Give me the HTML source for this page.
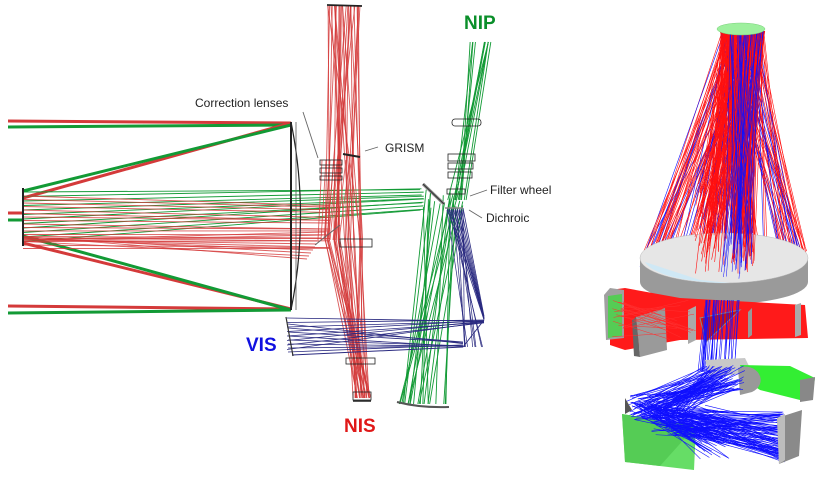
<!DOCTYPE html>
<html><head><meta charset="utf-8"><style>
html,body{margin:0;padding:0;background:#fff;width:834px;height:478px;overflow:hidden}
svg{display:block}
text{font-family:"Liberation Sans",sans-serif}
</style></head><body>
<svg id="s" width="834" height="478" viewBox="0 0 834 478" xmlns="http://www.w3.org/2000/svg">
<rect width="834" height="478" fill="#fff"/>
<g id="rays" fill="none"></g>
<g id="fg" fill="none" stroke="#222">
 <path d="M291,122 L291,310" stroke-width="2"/>
 <path d="M291,122 Q310,216 291,310" stroke-width="1.2"/>
 <path d="M296,122 L296,310" stroke-width="0.8" stroke="#555"/>
 <path d="M23,188 L23,246" stroke-width="2"/>
 <rect x="320" y="160" width="22" height="5" stroke-width="0.8"/>
 <rect x="320" y="168" width="22" height="5" stroke-width="0.8"/>
 <rect x="320" y="176" width="22" height="4" stroke-width="0.8"/>
 <path d="M343,154 L360,157" stroke-width="2"/>
 <path d="M327,5 L362,6" stroke-width="1.8"/>
 <rect x="340" y="239" width="32" height="8" stroke-width="0.8"/>
 <rect x="346" y="358" width="29" height="6" stroke-width="0.8"/>
 <rect x="353" y="392" width="18" height="8" stroke-width="0.8"/>
 <path d="M353,401 L371,401" stroke-width="1.5"/>
 <path d="M315,245 L340,225" stroke-width="1" stroke="#666"/>
 <rect x="452" y="119" width="29" height="7" rx="3" stroke-width="0.8"/>
 <rect x="448" y="154" width="27" height="7" stroke-width="0.8"/>
 <rect x="448" y="163" width="25" height="6" stroke-width="0.8"/>
 <rect x="448" y="172" width="24" height="6" stroke-width="0.8"/>
 <rect x="447" y="189" width="18" height="5" stroke-width="0.8"/>
 <path d="M423,184 L444,204" stroke-width="3" stroke="#888"/>
 <path d="M423,184 L444,204" stroke-width="1" stroke="#333"/>
 <path d="M445,208 L463,208" stroke-width="1.5" stroke="#888"/>
 <path d="M397,402 Q420,408 449,407" stroke-width="2" stroke="#555"/>
 <path d="M286,317 L293,356" stroke-width="1.2" stroke="#333"/>
 <path d="M303,112 L318,158" stroke="#666" stroke-width="0.9"/>
 <path d="M365,151 L378,147" stroke="#666" stroke-width="0.9"/>
 <path d="M470,196 L487,190" stroke="#666" stroke-width="0.9"/>
 <path d="M469,210 L482,218" stroke="#666" stroke-width="0.9"/>
</g>
<g font-size="12" fill="#222">
 <text x="195" y="107">Correction lenses</text>
 <text x="385" y="152">GRISM</text>
 <text x="490" y="194">Filter wheel</text>
 <text x="486" y="222">Dichroic</text>
</g>
<text x="464" y="29" font-size="19" font-weight="bold" fill="#0a8f2a">NIP</text>
<text x="246" y="351" font-size="19" font-weight="bold" fill="#1010e0">VIS</text>
<text x="344" y="432" font-size="19" font-weight="bold" fill="#e01818">NIS</text>
<g id="r3d"></g>
</svg>
<script>
var seed=7;function rnd(){seed=(seed*16807)%2147483647;return (seed-1)/2147483646;}
var NS="http://www.w3.org/2000/svg";
var g=document.getElementById('rays');
function L(p,x1,y1,x2,y2,c,w,o){var l=document.createElementNS(NS,'line');l.setAttribute('x1',x1);l.setAttribute('y1',y1);l.setAttribute('x2',x2);l.setAttribute('y2',y2);l.setAttribute('stroke',c);l.setAttribute('stroke-width',w||0.8);if(o)l.setAttribute('stroke-opacity',o);p.appendChild(l);}
function P(p,d,f,s,w){var e=document.createElementNS(NS,'path');e.setAttribute('d',d);e.setAttribute('fill',f||'none');if(s){e.setAttribute('stroke',s);e.setAttribute('stroke-width',w||1);}p.appendChild(e);return e;}
var R='#d43a3a',G='#129a35',B='#2a2a80';
L(g,8,121,291,123,R,3);L(g,8,127,291,125,G,3);
L(g,8,306,291,309,R,3);L(g,8,313,291,310,G,3);
L(g,8,213,23,213,R,3);L(g,8,220,23,220,G,3);
L(g,291,123,23,198,R,3);L(g,291,125,23,191,G,3);
L(g,291,309,23,243,R,3);L(g,291,310,23,236,G,3);
for(var i=0;i<12;i++){var y=192+i*4.5;L(g,23,y,420+rnd()*5,186+i*2+rnd()*4,G,0.9);}
for(var i=0;i<16;i++){var y=196+i*3.5;L(g,23,y,330,200+i*3+rnd()*6,R,0.9,0.85);}
for(var i=0;i<10;i++){L(g,23,236+rnd()*6,325-i*2,232+i*3,R,0.9,0.8);}
for(var i=0;i<30;i++){var x1=327+rnd()*34,xm=325+rnd()*40,x2=353+rnd()*18;L(g,xm,240,x1,6,R,0.9,0.85);L(g,xm,240,x2,398,R,0.9,0.85);}
for(var i=0;i<8;i++){L(g,318+i*3,240,322+i*4,160,R,0.9,0.8);}
for(var i=0;i<12;i++){var xt=467+rnd()*24,xm=447+rnd()*20;L(g,xt,42,xm,200,G,0.9);}
for(var i=0;i<22;i++){var xs=423+rnd()*40,xb=398+rnd()*50;L(g,xs,188+rnd()*20,xb,404,G,0.9);}
for(var i=0;i<9;i++){L(g,447+i*2,208,484,320-rnd()*4,B,0.8);L(g,447+i*2,210,463+rnd()*20,347,B,0.7);}
for(var i=0;i<8;i++){L(g,287,318+i*4.5,484,320+rnd()*3,B,0.8);L(g,288,324+i*4,463,342+rnd()*5,B,0.8);}
L(g,484,320,463,347,B,1);L(g,292,355,463,347,B,1);
var r=document.getElementById('r3d');
// wide cone rays to rim
for(var i=0;i<60;i++){var xt=719+rnd()*46;var s=rnd();var xb=s<0.5?640+rnd()*25:780+rnd()*28;L(r,xt,30,xb,250+rnd()*20,rnd()<0.7?'#ff1010':'#1010ff',0.6);}
for(var i=0;i<160;i++){var xt=721+rnd()*42;var xb,yb;
 if(rnd()<0.35){xb=642+rnd()*166;yb=258+(rnd()-0.5)*40;}else{xb=695+rnd()*60;yb=150+rnd()*140;}
 L(r,xt,30,xb,yb,rnd()<0.7?'#ff1010':'#1010ff',0.6);}
P(r,'M640,258 L640,282 A84,22 0 0 0 808,282 L808,258 Z','#9a9a9a');
P(r,'M640,258 A84,25 0 0 1 808,258 A84,25 0 0 1 640,258 Z','#e6e6e6','#bbb',0.5);
P(r,'M645,262 A84,25 0 0 0 730,283 L700,280 Z','#cfe8f5');
for(var i=0;i<130;i++){L(r,720+rnd()*45,31,695+rnd()*60,200+rnd()*75,'#ff1010',0.6);}
for(var i=0;i<35;i++){L(r,730+rnd()*35,31,720+rnd()*35,230+rnd()*50,'#1010ff',0.5);}
P(r,'M717,29 A24,6 0 0 1 765,29 A24,6 0 0 1 717,29 Z','#9ef09e','#7ad07a',0.5);
P(r,'M610,290 L625,288 L680,298 L805,305 L808,338 L680,340 L625,350 L610,345 Z','#ff1a1a');
P(r,'M604,295 L610,288 L624,290 L624,338 L606,340 Z','#a0a0a0');
P(r,'M608,296 L622,294 L622,336 L608,338 Z','#55cc55');
P(r,'M636,317 L665,308 L667,350 L640,357 Z','#9a9a9a');
P(r,'M632,320 L636,317 L640,357 L634,356 Z','#666');
P(r,'M688,310 L696,306 L696,340 L688,344 Z','#aaa');
P(r,'M700,318 L740,310 L706,342 Z','#cc1111','#888',1);
P(r,'M748,312 L752,308 L752,335 L748,338 Z','#999');
P(r,'M795,305 L801,303 L801,335 L795,337 Z','#aaa');
for(var i=0;i<20;i++){L(r,612+rnd()*12,295+rnd()*45,660+rnd()*40,300+rnd()*40,'#ff3030',0.5);}
for(var i=0;i<30;i++){var x=704+rnd()*36;L(r,x,300,x-8+rnd()*6,372,'#1010ff',0.6);}
P(r,'M705,360 L745,358 L752,372 L710,378 Z','#c8c8c8');
P(r,'M740,365 L790,366 L815,378 L812,398 L800,400 L760,390 L745,380 Z','#33ee33');
P(r,'M800,380 L815,377 L813,400 L800,402 Z','#888');
P(r,'M738,368 A14,12 0 0 1 752,392 L740,395 Z','#999');
for(var i=0;i<90;i++){L(r,700+rnd()*45,365+rnd()*25,625+rnd()*60,395+rnd()*25,'#1010ff',0.6);}
P(r,'M622,414 L696,426 L694,470 L625,462 Z','#66dd66');
P(r,'M622,414 L696,426 L660,466 L625,462 Z','#55cc55');
P(r,'M625,398 L632,410 L625,414 Z','#555');
for(var i=0;i<90;i++){L(r,650+rnd()*60,405+rnd()*30,780+rnd()*5,412+rnd()*50,'#1010ff',0.6);}
for(var i=0;i<60;i++){L(r,630+rnd()*30,400+rnd()*20,700+rnd()*30,410+rnd()*50,'#1010ff',0.6);}
P(r,'M777,418 L802,410 L799,456 L779,464 Z','#8a8a8a');
P(r,'M777,418 L785,414 L785,460 L779,464 Z','#bdbdbd');
</script>
</body></html>
